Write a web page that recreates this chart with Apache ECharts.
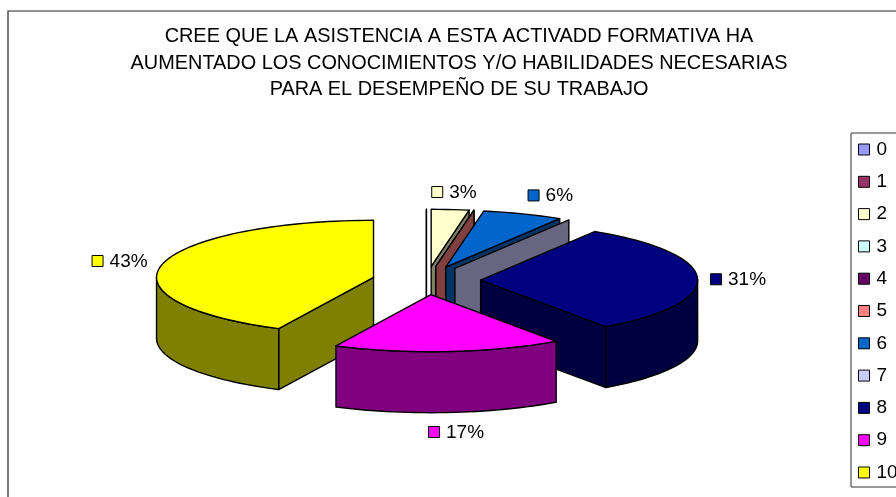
<!DOCTYPE html>
<html>
<head>
<meta charset="utf-8">
<style>html,body{margin:0;padding:0;background:#fff}#chart{width:896px;height:497px}</style>
<script src="https://cdn.jsdelivr.net/npm/echarts@6/dist/echarts.min.js"></script>
</head>
<body>
<div id="chart"></div>
<script>
var titleLines = ['CREE QUE LA ASISTENCIA A ESTA ACTIVADD FORMATIVA HA', 'AUMENTADO LOS CONOCIMIENTOS Y/O HABILIDADES NECESARIAS', 'PARA EL DESEMPEÑO DE SU TRABAJO'];
var categories = ['0', '1', '2', '3', '4', '5', '6', '7', '8', '9', '10'];
// the labels show them rounded
var percents = [0, 0, 2.8, 0, 0, 0, 6, 0, 31.4, 17, 42.8];
var topColors = ['#9999FF', '#993366', '#FFFFCC', '#CCFFFF', '#660066', '#FF8080', '#0066CC', '#CCCCFF', '#000080', '#FF00FF', '#FFFF00'];
var sideColors = ['#4C4C80', '#4C1933', '#808066', '#668080', '#330033', '#804040', '#003366', '#666680', '#000040', '#800080', '#808000'];

// geometry of the tilted pie
var cx = 426.4, cy = 280.5, rx = 217, ry = 57, depth = 61, explode = 0.25;
var labelFont = '19px "Liberation Sans"';
// label position relative to the outer rim point of the slice
var labelOffset = {2: [-12.5, -17], 6: [11, -18], 8: [19, 1.5], 9: [-14, 81], 10: [-64, -3]};

var total = percents.reduce(function (a, b) { return a + b; }, 0);
var startAngles = [], sum = 0;
percents.forEach(function (v) { startAngles.push(sum / total * 360); sum += v; });

function rad(d) { return d * Math.PI / 180; }

function renderSlice(idx) {
    return function (params, api) {
        var a = startAngles[idx], b = a + api.value(0) / total * 360, mid = (a + b) / 2;
        var ox = cx + explode * rx * Math.sin(rad(mid));
        var oy = cy - explode * ry * Math.cos(rad(mid));
        function rim(t, down) {
            return [ox + rx * Math.sin(rad(t)), oy - ry * Math.cos(rad(t)) + (down || 0)];
        }
        function stroke(fill) { return {fill: fill, stroke: '#000', lineWidth: 1.4, lineJoin: 'round'}; }
        function poly(pts, fill) { return {type: 'polygon', shape: {points: pts}, style: stroke(fill), silent: true}; }
        function wall(t) {
            return poly([[ox, oy], rim(t), rim(t, depth), [ox, oy + depth]], sideColors[idx]);
        }
        var children = [];
        if (b === a) {
            children.push(wall(a));
            return {type: 'group', children: children};
        }
        // cut faces turned to the viewer
        if (Math.sin(rad(a)) < 0 && b > a) children.push(wall(a));
        if (Math.cos(rad(b)) < 0 && Math.sin(rad(b)) > 0 || (b < 90)) children.push(wall(b));
        // outer side, front half only
        var s0 = Math.max(a, 90), s1 = Math.min(b, 270), t;
        if (s1 > s0) {
            var side = [];
            for (t = s0; t < s1; t += 2) side.push(rim(t));
            side.push(rim(s1));
            for (t = s1; t > s0; t -= 2) side.push(rim(t, depth));
            side.push(rim(s0, depth));
            children.push(poly(side, sideColors[idx]));
        }
        // top face
        var top = [[ox, oy]];
        for (t = a; t < b; t += 2) top.push(rim(t));
        top.push(rim(b));
        children.push(poly(top, topColors[idx]));
        // percent label with its legend key
        var p = rim(mid), off = labelOffset[idx];
        var lx = p[0] + off[0], ly = p[1] + off[1];
        children.push({type: 'rect', shape: {x: lx - 6, y: ly - 6, width: 11, height: 11}, style: {fill: topColors[idx], stroke: '#000', lineWidth: 1}, silent: true});
        children.push({type: 'text', style: {x: lx + 11.5, y: ly, text: Math.round(api.value(0)) + '%', font: labelFont, fill: '#000', align: 'left', verticalAlign: 'middle'}, silent: true});
        return {type: 'group', children: children};
    };
}

var myChart = echarts.init(document.getElementById('chart'), null, {renderer: 'canvas'});
var series = categories.map(function (name, i) {
    return {
        name: name,
        type: 'custom',
        coordinateSystem: 'none',
        renderItem: renderSlice(i),
        data: [[percents[i]]],
        itemStyle: {color: topColors[i]},
        z: i === 10 ? 1 : 2 + i,
        animation: false,
        silent: true
    };
});

var option = {
    animation: false,
    backgroundColor: '#fff',
    color: topColors,
    title: titleLines.map(function (line, i) {
        return {
            text: line,
            left: 459,
            top: 27 + i * 26.5,
            textAlign: 'center',
            padding: 0,
            textStyle: {fontFamily: 'Liberation Sans', fontSize: 19.9, fontWeight: 'normal', color: '#000'}
        };
    }),
    legend: {
        orient: 'vertical',
        left: 851,
        top: 133,
        data: categories,
        selectedMode: false,
        icon: 'rect',
        itemWidth: 11,
        itemHeight: 11,
        itemGap: 13.3,
        padding: [7, 20, 5, 7],
        borderColor: '#333',
        borderWidth: 1,
        backgroundColor: '#fff',
        itemStyle: {borderColor: '#000', borderWidth: 1},
        textStyle: {fontFamily: 'Liberation Sans', fontSize: 19, color: '#000', padding: [0, 0, 0, 2]}
    },
    graphic: [{
        type: 'rect',
        shape: {x: 8, y: 11, width: 1000, height: 1000},
        style: {fill: 'none', stroke: '#222', lineWidth: 1.2},
        silent: true,
        z: 0
    }],
    series: series
};
myChart.setOption(option);
window.onresize = function () { myChart.resize(); };
</script>
</body>
</html>
